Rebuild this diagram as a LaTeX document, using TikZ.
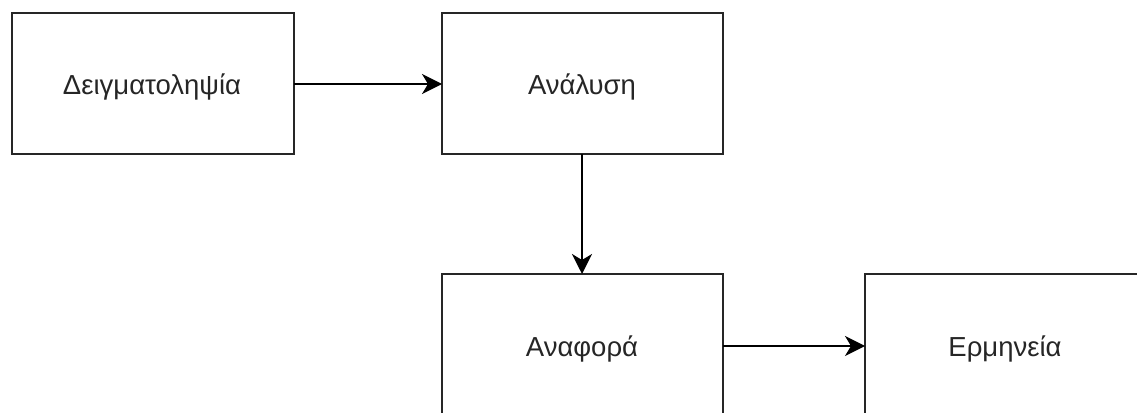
\documentclass[tikz,border=0pt]{standalone}
\usepackage{fontspec}
\setmainfont{Liberation Sans}
\usetikzlibrary{arrows.meta}
\begin{document}
\begin{tikzpicture}[x=1pt,y=-1pt,
  stepbox/.style={draw=black!85, line width=2pt, fill=white},
  flow/.style={draw=black, line width=2pt,
    -{Stealth[length=20pt,width=20pt,inset=6pt]}},
  label/.style={font=\fontsize{27.5}{32}\selectfont, text=black!85, anchor=base}]
\useasboundingbox (0,0) rectangle (1137,412);
% process boxes (the lower row runs off the page edge)
\begin{scope}
\clip (0,0) rectangle (1137,412);
\draw[stepbox] (12,13) rectangle (294,154);
\draw[stepbox] (442,13) rectangle (723,154);
\draw[stepbox] (442,274) rectangle (723,416);
\draw[stepbox] (865,274) rectangle (1147,416);
\end{scope}
\node[label] (t1) at (152,94) {Δειγματοληψία};
\node[label] (t2) at (582,94) {Ανάλυση};
\node[label] (t3) at (582,356) {Αναφορά};
\node[label] (t4) at (1005,356) {Ερμηνεία};
\coordinate (b1r) at (294,84);
\coordinate (b2l) at (442,84);
\coordinate (b2b) at (582,154);
\coordinate (b3t) at (582,274);
\coordinate (b3r) at (723,346);
\coordinate (b4l) at (865,346);
\draw[flow] (b1r) -- (b2l);
\draw[flow] (b2b) -- (b3t);
\draw[flow] (b3r) -- (b4l);
\end{tikzpicture}
\end{document}
